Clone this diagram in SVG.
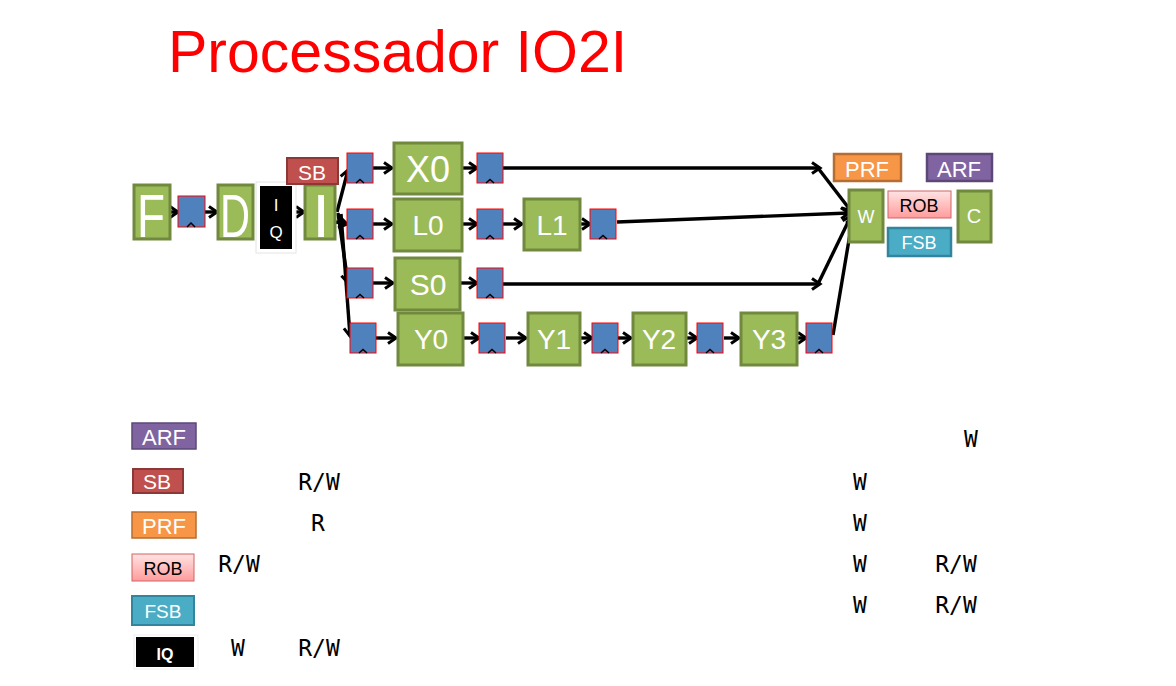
<svg xmlns="http://www.w3.org/2000/svg" width="1176" height="686" viewBox="0 0 1176 686">
<style>
.stage rect{fill:#9BBB59;stroke:#71893F;stroke-width:3}
.lbl{font-family:"Liberation Sans",Arial,sans-serif;text-anchor:middle;fill:#fff}
.conn line{stroke:#000;stroke-width:3.4;fill:none}
.tbl{font-family:"DejaVu Sans Mono",monospace;font-size:23px;fill:#000;text-anchor:middle}
.rg{fill:#4F81BD;stroke:#FF0000;stroke-width:1}
</style>
<defs>
<marker id="arr" markerWidth="14" markerHeight="14" refX="10" refY="7" orient="auto" markerUnits="userSpaceOnUse">
<path d="M2,1.5 L10,7 L2,12.5" fill="none" stroke="#000" stroke-width="3"/>
</marker>
<linearGradient id="robg" x1="0" y1="0" x2="0" y2="1"><stop offset="0" stop-color="#FFE3E3"/><stop offset="1" stop-color="#FF9C9C"/></linearGradient>
<g id="reg"><rect class="rg" x="0" y="0" width="26" height="30"/><path d="M9,30 L13,26.5 L17,30" fill="none" stroke="#000" stroke-width="1.5"/></g>
</defs>
<rect width="1176" height="686" fill="#fff"/>
<text x="168" y="72" font-family="Liberation Sans,Arial,sans-serif" font-size="59" fill="#FF0000">Processador IO2I</text>

<g class="conn">
<line x1="170" y1="212" x2="178" y2="212" marker-end="url(#arr)"/>
<line x1="205" y1="212" x2="217" y2="212" marker-end="url(#arr)"/>
<line x1="296" y1="212" x2="304" y2="212" marker-end="url(#arr)"/>
<line x1="337" y1="212" x2="348" y2="170" marker-end="url(#arr)"/>
<line x1="336" y1="222" x2="347" y2="224" marker-end="url(#arr)"/>
<line x1="338" y1="213" x2="348" y2="283" marker-end="url(#arr)"/>
<line x1="341" y1="214" x2="350" y2="336" marker-end="url(#arr)"/>
<line x1="373" y1="168" x2="392" y2="168" marker-end="url(#arr)"/>
<line x1="462" y1="168" x2="477" y2="168" marker-end="url(#arr)"/>
<line x1="373" y1="224" x2="392" y2="224" marker-end="url(#arr)"/>
<line x1="462" y1="224" x2="477" y2="224" marker-end="url(#arr)"/>
<line x1="503" y1="224" x2="522" y2="224" marker-end="url(#arr)"/>
<line x1="580" y1="224" x2="590" y2="224" marker-end="url(#arr)"/>
<line x1="373" y1="283" x2="393" y2="283" marker-end="url(#arr)"/>
<line x1="460" y1="283" x2="477" y2="283" marker-end="url(#arr)"/>
<line x1="376" y1="338" x2="396" y2="338" marker-end="url(#arr)"/>
<line x1="463" y1="338" x2="479" y2="338" marker-end="url(#arr)"/>
<line x1="506" y1="338" x2="526" y2="338" marker-end="url(#arr)"/>
<line x1="580" y1="338" x2="592" y2="338" marker-end="url(#arr)"/>
<line x1="618" y1="338" x2="631" y2="338" marker-end="url(#arr)"/>
<line x1="686" y1="338" x2="697" y2="338" marker-end="url(#arr)"/>
<line x1="724" y1="338" x2="739" y2="338" marker-end="url(#arr)"/>
<line x1="797" y1="338" x2="806" y2="338" marker-end="url(#arr)"/>
<line x1="503" y1="168" x2="820" y2="168" marker-end="url(#arr)"/>
<line x1="818" y1="168" x2="851" y2="211" marker-end="url(#arr)"/>
<line x1="617" y1="222" x2="849" y2="213" marker-end="url(#arr)"/>
<line x1="503" y1="284" x2="820" y2="284" marker-end="url(#arr)"/>
<line x1="818" y1="284" x2="851" y2="216" marker-end="url(#arr)"/>
<line x1="833" y1="335" x2="853" y2="216" marker-end="url(#arr)"/>
</g>

<g id="F" class="stage"><rect x="134" y="185" width="36" height="54"/><text class="lbl" x="151" y="237" font-size="62" textLength="28" lengthAdjust="spacingAndGlyphs">F</text></g>
<g id="regF"><rect class="rg" x="178" y="196" width="27" height="31"/><path d="M187,227 L191,223 L195,227" fill="none" stroke="#000" stroke-width="1.5"/></g>
<g id="D" class="stage"><rect x="218" y="185" width="35" height="54"/><text class="lbl" x="235" y="237" font-size="62" textLength="30" lengthAdjust="spacingAndGlyphs">D</text></g>
<g id="IQ"><rect x="256" y="182" width="40" height="71" fill="#fff" stroke="#E4E4E4" stroke-width="1"/><rect x="260" y="186" width="32" height="63" fill="#000"/><text class="lbl" x="276" y="211" font-size="17">I</text><text class="lbl" x="276" y="238" font-size="17">Q</text></g>
<g id="I" class="stage"><rect x="305" y="185" width="30" height="54"/><text class="lbl" x="321" y="237" font-size="62">I</text></g>
<g id="SB"><rect x="287" y="158" width="51" height="26" fill="#C0504D" stroke="#8C3836" stroke-width="2"/><text class="lbl" x="312" y="180" font-size="21">SB</text></g>

<g id="regs">
<use href="#reg" x="347" y="153"/>
<use href="#reg" x="347" y="209"/>
<use href="#reg" x="347" y="268"/>
<use href="#reg" x="350" y="323"/>
<use href="#reg" x="477" y="153"/>
<use href="#reg" x="477" y="209"/>
<use href="#reg" x="590" y="209"/>
<use href="#reg" x="477" y="268"/>
<use href="#reg" x="479" y="323"/>
<use href="#reg" x="592" y="323"/>
<use href="#reg" x="697" y="323"/>
<use href="#reg" x="806" y="323"/>
</g>

<g id="X0" class="stage"><rect x="394" y="143" width="68" height="51"/><text class="lbl" x="428" y="182" font-size="36">X0</text></g>
<g id="L0" class="stage"><rect x="394" y="199" width="68" height="52"/><text class="lbl" x="428" y="235" font-size="28">L0</text></g>
<g id="L1" class="stage"><rect x="524" y="199" width="56" height="51"/><text class="lbl" x="552" y="235" font-size="28">L1</text></g>
<g id="S0" class="stage"><rect x="395" y="258" width="65" height="52"/><text class="lbl" x="428" y="295" font-size="30">S0</text></g>
<g id="Y0" class="stage"><rect x="398" y="313" width="65" height="52"/><text class="lbl" x="431" y="349" font-size="28">Y0</text></g>
<g id="Y1" class="stage"><rect x="528" y="313" width="52" height="52"/><text class="lbl" x="554" y="349" font-size="28">Y1</text></g>
<g id="Y2" class="stage"><rect x="633" y="313" width="53" height="52"/><text class="lbl" x="659" y="349" font-size="28">Y2</text></g>
<g id="Y3" class="stage"><rect x="741" y="313" width="56" height="52"/><text class="lbl" x="769" y="349" font-size="28">Y3</text></g>

<g id="PRF"><rect x="834" y="154" width="67" height="27" fill="#F79646" stroke="#B66D31" stroke-width="2.5"/><text class="lbl" x="867" y="177" font-size="22">PRF</text></g>
<g id="ARF"><rect x="927" y="154" width="65" height="27" fill="#8064A2" stroke="#5C4776" stroke-width="2.5"/><text class="lbl" x="959" y="177" font-size="22">ARF</text></g>
<g id="W" class="stage"><rect x="849" y="190" width="34" height="52"/><text class="lbl" x="866" y="223" font-size="18">W</text></g>
<g id="ROB"><rect x="888" y="191" width="63" height="27" fill="url(#robg)" stroke="#D06565" stroke-width="1"/><text class="lbl" x="919" y="212" font-size="18" style="fill:#000">ROB</text></g>
<g id="FSB"><rect x="888" y="228" width="63" height="28" fill="#4BACC6" stroke="#31859C" stroke-width="2.5"/><text class="lbl" x="919" y="249" font-size="18">FSB</text></g>
<g id="C" class="stage"><rect x="958" y="191" width="33" height="51"/><text class="lbl" x="974" y="223" font-size="20">C</text></g>

<g id="legend">
<g id="lg-ARF"><rect x="132" y="423" width="64" height="26" fill="#8064A2" stroke="#5C4776" stroke-width="1.5"/><text class="lbl" x="164" y="445" font-size="22">ARF</text></g>
<g id="lg-SB"><rect x="133" y="469" width="50" height="24" fill="#C0504D" stroke="#8C3836" stroke-width="2"/><text class="lbl" x="157" y="489" font-size="21">SB</text></g>
<g id="lg-PRF"><rect x="132" y="512" width="64" height="26" fill="#F79646" stroke="#B66D31" stroke-width="1.5"/><text class="lbl" x="164" y="534" font-size="22">PRF</text></g>
<g id="lg-ROB"><rect x="132" y="554" width="62" height="27" fill="url(#robg)" stroke="#D06565" stroke-width="1"/><text class="lbl" x="163" y="575" font-size="18" style="fill:#000">ROB</text></g>
<g id="lg-FSB"><rect x="132" y="596" width="62" height="29" fill="#4BACC6" stroke="#31859C" stroke-width="2"/><text class="lbl" x="163" y="618" font-size="19">FSB</text></g>
<g id="lg-IQ"><rect x="134" y="635" width="64" height="34" fill="#fff" stroke="#EEEEEE" stroke-width="1"/><rect x="136" y="637" width="58" height="30" fill="#000"/><text class="lbl" x="165" y="660" font-size="16" font-weight="bold">IQ</text></g>
</g>

<g id="table">
<text class="tbl" x="971" y="447">W</text>
<text class="tbl" x="319" y="490">R/W</text>
<text class="tbl" x="860" y="490">W</text>
<text class="tbl" x="318" y="531">R</text>
<text class="tbl" x="860" y="531">W</text>
<text class="tbl" x="239" y="572">R/W</text>
<text class="tbl" x="860" y="572">W</text>
<text class="tbl" x="956" y="572">R/W</text>
<text class="tbl" x="860" y="613">W</text>
<text class="tbl" x="956" y="613">R/W</text>
<text class="tbl" x="238" y="656">W</text>
<text class="tbl" x="319" y="656">R/W</text>
</g>
</svg>
